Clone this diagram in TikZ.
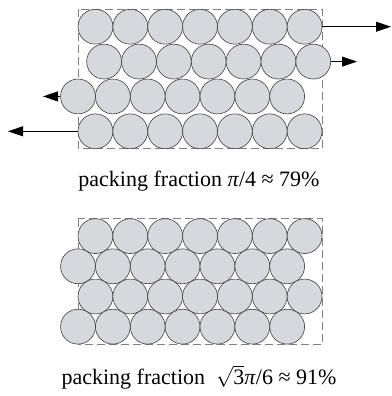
\documentclass[tikz,border=0pt]{standalone}
\usepackage{fontspec}
\setmainfont{Liberation Serif}
\usepackage{xcolor}
\usetikzlibrary{arrows.meta}
\definecolor{ballgray}{RGB}{215,216,219}
\tikzset{
  ball/.style  ={circle, draw=black!75, line width=0.6pt, fill=ballgray, minimum size=34.86pt, inner sep=0pt},
  frame/.style ={draw=black!50, line width=0.8pt, dash pattern=on 8pt off 4pt},
  pull/.style  ={-{Triangle[length=15pt,width=10pt]}, line width=0.8pt},
  fraclabel/.style ={font=\fontsize{22}{26}\selectfont, anchor=base, inner sep=0pt},
}

\begin{document}
\begin{tikzpicture}[x=1pt, y=-1pt]
  \useasboundingbox (0,0) rectangle (391,396);
  % --- square rows, sheared: pi/4 ---
  \begin{scope}
    \draw[frame] (78,9.3) rectangle (322,148.7);
    \foreach \r/\dx in {1/0,2/8.7,3/-17.43,4/0} {
      \foreach \i in {1,...,7} {
        \node[ball] (t\r-\i) at ({78+17.43+\dx+(\i-1)*34.86},{26.73+(\r-1)*34.86}) {};
      }
    }
    \coordinate (e1) at (391,26.73);  \coordinate (e2) at (357,61.59);
    \coordinate (e3) at (43,96.45);   \coordinate (e4) at (8,131.31);
    \draw[pull] (t1-7.east)--(e1); \draw[pull] (t2-7.east)--(e2);
    \draw[pull] (t3-1.west)--(e3); \draw[pull] (t4-1.west)--(e4);
    \node[fraclabel] (lt) at (199,186.5) {packing fraction \textit{π}/4 ≈ 79\%};
  \end{scope}
  % --- hexagonal rows: sqrt(3) pi/6 ---
  \begin{scope}
    \draw[frame] (78,218.7) rectangle (322,344.2);
    \foreach \r/\dx in {1/0,2/-17.43,3/0,4/-17.43} {
      \foreach \i in {1,...,7} {
        \node[ball] (b\r-\i) at ({78+17.43+\dx+(\i-1)*34.86},{236.1+(\r-1)*30.19}) {};
      }
    }
    \node[fraclabel] (lb) at (199,384.5) {packing fraction \ $\sqrt{\mbox{3}}$\textit{π}/6 ≈ 91\%};
  \end{scope}
\end{tikzpicture}
\end{document}
